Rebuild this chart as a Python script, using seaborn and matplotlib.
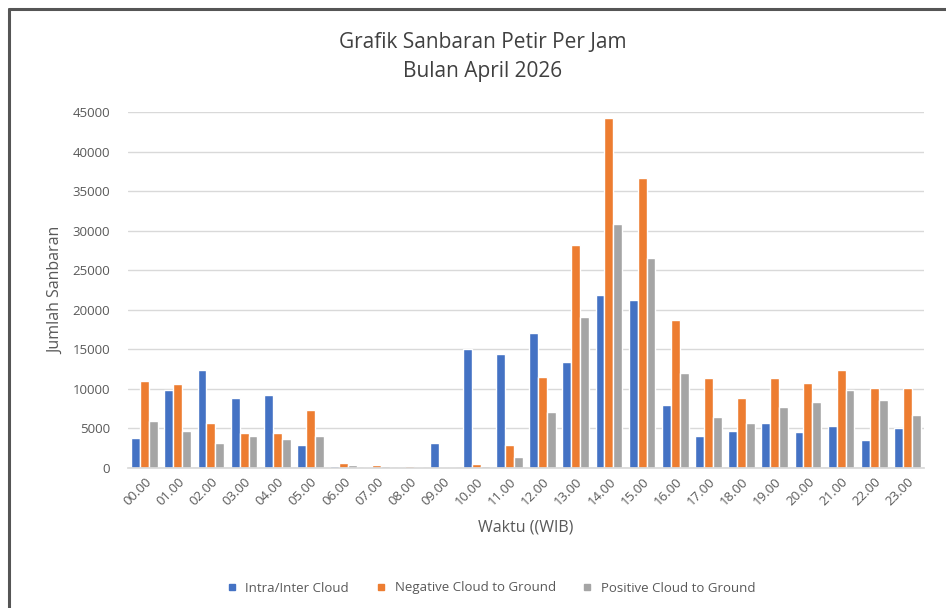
import matplotlib
matplotlib.use("Agg")
import matplotlib.pyplot as plt
from matplotlib.lines import Line2D
import seaborn as sns
import pandas as pd

hours = ["00.00", "01.00", "02.00", "03.00", "04.00", "05.00", "06.00", "07.00",
         "08.00", "09.00", "10.00", "11.00", "12.00", "13.00", "14.00", "15.00",
         "16.00", "17.00", "18.00", "19.00", "20.00", "21.00", "22.00", "23.00"]
intra_inter = [3800, 9800, 12400, 8800, 9200, 2900, 200, 100,
               50, 3150, 15000, 14400, 17100, 13400, 21900, 21200,
               8000, 4100, 4700, 5700, 4550, 5350, 3500, 5100]
negative_cg = [11000, 10600, 5750, 4400, 4400, 7350, 600, 350,
               200, 100, 500, 2900, 11550, 28150, 44300, 36700,
               18700, 11350, 8900, 11350, 10700, 12400, 10100, 10100]
positive_cg = [5900, 4700, 3150, 4000, 3650, 4000, 350, 250,
               150, 100, 300, 1350, 7100, 19100, 30900, 26500,
               12050, 6400, 5700, 7700, 8400, 9800, 8600, 6700]
series_names = ["Intra/Inter Cloud", "Negative Cloud to Ground", "Positive Cloud to Ground"]
colors = ["#4472C4", "#ED7D31", "#A5A5A5"]

df = pd.DataFrame({
    "Waktu": hours * 3,
    "Jumlah": intra_inter + negative_cg + positive_cg,
    "Jenis": [series_names[0]] * 24 + [series_names[1]] * 24 + [series_names[2]] * 24,
})

sns.set_theme(style="white")
plt.rcParams["font.family"] = ["Open Sans", "DejaVu Sans"]

fig = plt.figure(figsize=(9.46, 6.08), dpi=100)
ax = fig.add_axes([128 / 946, 1 - 468 / 608, (924 - 128) / 946, (468 - 112) / 608])

sns.barplot(data=df, x="Waktu", y="Jumlah", hue="Jenis", order=hours,
            hue_order=series_names, palette=colors, width=0.8,
            saturation=1, ax=ax, legend=False)

ax.set_ylim(0, 45000)
ax.set_xlim(-0.5, 23.5)
ax.set_yticks(range(0, 45001, 5000))
ax.yaxis.grid(True, color="#D9D9D9", linewidth=1)
ax.set_axisbelow(True)
for s in ["top", "right", "left"]:
    ax.spines[s].set_visible(False)
ax.spines["bottom"].set_color("#D9D9D9")
ax.tick_params(axis="both", length=0, labelsize=9.5, colors="#595959")
ax.tick_params(axis="y", pad=13)
ax.set_xticks(range(24))
ax.set_xticklabels(hours, rotation=45, ha="right", rotation_mode="anchor")
ax.tick_params(axis="x", pad=5)

ax.set_xlabel("Waktu ((WIB)", fontsize=11.5, color="#595959", labelpad=8)
ax.set_ylabel("Jumlah Sanbaran", fontsize=11.5, color="#595959", labelpad=6)

fig.text(483 / 946, 1 - 42 / 608, "Grafik Sanbaran Petir Per Jam", ha="center", va="center",
         fontsize=15, color="#404040")
fig.text(483 / 946, 1 - 71 / 608, "Bulan April 2026", ha="center", va="center",
         fontsize=15, color="#404040")

handles = [Line2D([0], [0], marker="s", linestyle="", markersize=5,
                  markerfacecolor=c, markeredgecolor=c) for c in colors]
fig.legend(handles, series_names, loc="center", bbox_to_anchor=(487 / 946, 1 - 588 / 608),
           ncol=3, frameon=False, fontsize=9.5, handletextpad=0.05, columnspacing=1.4,
           labelcolor="#595959")

# outer frame (left and top borders of the screenshot)
fig.add_artist(Line2D([9 / 946, 9 / 946], [0, 1 - 9 / 608], transform=fig.transFigure,
                      color="#555555", linewidth=2.2))
fig.add_artist(Line2D([9 / 946, 1], [1 - 9 / 608, 1 - 9 / 608], transform=fig.transFigure,
                      color="#555555", linewidth=2.2))

fig.savefig("out.png", dpi=100, facecolor="white")
